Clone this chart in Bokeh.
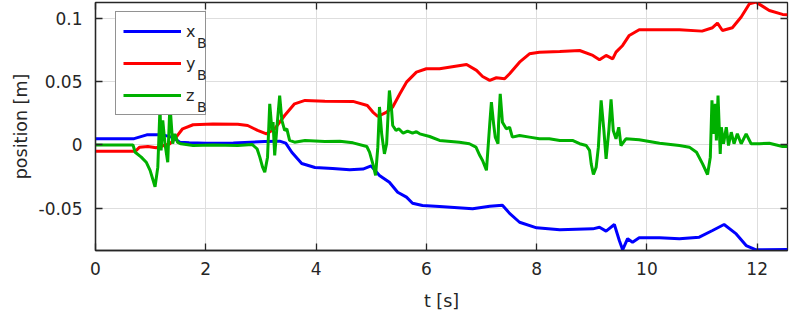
from bokeh.plotting import figure
from bokeh.models import (Range1d, FixedTicker, LinearAxis, Legend, LegendItem,
                          CustomLabelingPolicy)
from bokeh.embed import file_html
from bokeh.resources import INLINE

# ---------------- data ----------------
t_x = [0, 0.7, 0.93, 1.22, 1.4, 1.53, 1.7, 2.0, 2.5, 3.07,
       3.34, 3.45, 3.56, 3.74, 3.98, 4.3, 4.61, 4.85, 5.0, 5.15,
       5.33, 5.48, 5.64, 5.75, 5.93, 6.24, 6.84, 7.15, 7.38, 7.51,
       7.69, 8.0, 8.42, 9.02, 9.14, 9.26, 9.41, 9.5, 9.56, 9.65,
       9.74, 9.86, 10.23, 10.59, 10.95, 11.19, 11.4, 11.62, 11.8, 11.98,
       12.55]
x_B = [0.005, 0.005, 0.008, 0.008, 0.006, 0.0022, 0.0018, 0.0014, 0.0015, 0.0028,
       0.003, 0.0015, -0.0057, -0.0146, -0.0178, -0.0185, -0.0196, -0.019, -0.0165, -0.024,
       -0.0294, -0.0373, -0.0412, -0.046, -0.0478, -0.0486, -0.0504, -0.0483, -0.0475, -0.054,
       -0.061, -0.0654, -0.067, -0.0662, -0.065, -0.068, -0.0628, -0.0754, -0.0828, -0.074,
       -0.0768, -0.0733, -0.0733, -0.074, -0.0728, -0.0675, -0.0628, -0.0702, -0.0794, -0.0828,
       -0.0826]

t_y = [0, 0.72, 0.8, 0.95, 1.1, 1.35, 1.46, 1.58, 1.77, 2.13,
       2.58, 2.76, 2.94, 3.1, 3.25, 3.43, 3.61, 3.8, 4.16, 4.67,
       4.93, 5.03, 5.12, 5.28, 5.39, 5.52, 5.64, 5.82, 6.0, 6.24,
       6.73, 6.91, 7.02, 7.15, 7.27, 7.42, 7.51, 7.69, 7.87, 8.05,
       8.42, 8.78, 9.02, 9.14, 9.26, 9.38, 9.44, 9.56, 9.68, 9.86,
       10.59, 11.0, 11.19, 11.28, 11.37, 11.55, 11.71, 11.86, 11.98, 12.22,
       12.46, 12.55]
y_B = [-0.005, -0.005, -0.0017, -0.0012, -0.0022, 0.001, 0.006, 0.0128, 0.016, 0.0165,
       0.0164, 0.0154, 0.0115, 0.0088, 0.0128, 0.0233, 0.0325, 0.0352, 0.0346, 0.0344,
       0.0312, 0.026, 0.0225, 0.026, 0.03, 0.0404, 0.0496, 0.0575, 0.0602, 0.0602,
       0.0636, 0.0589, 0.0541, 0.051, 0.0531, 0.0523, 0.0562, 0.0654, 0.072, 0.0733,
       0.0738, 0.0746, 0.0707, 0.0673, 0.0707, 0.068, 0.0733, 0.0786, 0.0865, 0.091,
       0.091, 0.0899, 0.0926, 0.0962, 0.0904, 0.0926, 0.101, 0.1115, 0.1128, 0.1062,
       0.1031, 0.1028]

t_z = [0, 0.68, 0.72, 0.83, 0.92, 0.99, 1.08, 1.13, 1.17, 1.19,
       1.22, 1.26, 1.31, 1.35, 1.4, 1.44, 1.49, 1.55, 1.77, 2.13,
       2.58, 2.84, 2.93, 2.98, 3.03, 3.07, 3.12, 3.16, 3.2, 3.22,
       3.25, 3.29, 3.34, 3.38, 3.43, 3.47, 3.52, 3.61, 3.8, 4.16,
       4.43, 4.67, 4.92, 4.97, 5.03, 5.08, 5.12, 5.15, 5.19, 5.24,
       5.28, 5.31, 5.33, 5.37, 5.39, 5.45, 5.5, 5.58, 5.66, 5.75,
       5.82, 5.88, 6.06, 6.24, 6.6, 6.78, 6.9, 6.97, 7.02, 7.09,
       7.12, 7.15, 7.18, 7.22, 7.25, 7.3, 7.31, 7.34, 7.38, 7.45,
       7.51, 7.56, 7.69, 7.87, 8.05, 8.23, 8.42, 8.65, 8.78, 8.9,
       8.96, 8.99, 9.03, 9.08, 9.12, 9.17, 9.22, 9.26, 9.31, 9.35,
       9.39, 9.44, 9.49, 9.53, 9.62, 9.86, 10.23, 10.59, 10.77, 10.9,
       11.01, 11.1, 11.15, 11.18, 11.21, 11.24, 11.26, 11.29, 11.33, 11.35,
       11.39, 11.44, 11.48, 11.53, 11.58, 11.64, 11.71, 11.8, 11.89, 12.04,
       12.22, 12.46, 12.55]
z_B = [0, 0, -0.0057, -0.0096, -0.0136, -0.02, -0.033, -0.0175, 0.03, -0.0043,
       0.0194, 0.001, -0.0136, 0.032, 0.001, 0.0088, 0.002, 0.001, -0.0004, 0,
       -0.0004, 0.0004, -0.003, -0.0096, -0.0175, -0.0215, -0.0096, 0.0325, 0.0115, 0.018,
       -0.0083, 0.014, 0.039, 0.0194, 0.0115, 0.0128, 0.0036, 0.0022, 0.0036, 0.0028,
       0.003, 0.0017, -0.0012, -0.0057, -0.0149, -0.024, -0.0017, 0.03, 0.0088, -0.007,
       0.001, 0.0273, 0.043, 0.0273, 0.0154, 0.0115, 0.0128, 0.0093, 0.011, 0.0093,
       0.0105, 0.0088, 0.0067, 0.0036, 0.0022, 0.001, -0.0017, -0.0083, -0.0122, -0.02,
       -0.0017, 0.0167, 0.0338, 0.0167, 0.0062, 0.001, 0.0167, 0.0404, 0.018, 0.0128,
       0.014, 0.0062, 0.0075, 0.0062, 0.0049, 0.005, 0.0036, 0.0036, 0.001, -0.0004,
       -0.0043, -0.0149, -0.0233, -0.0175, -0.0017, 0.0352, 0.0115, -0.0109, 0.0115, 0.036,
       0.0115, 0.0049, 0.014, -0.0004, 0.0049, 0.0041, 0.0014, -0.0004, -0.0017, -0.0057,
       -0.0149, -0.0233, -0.0096, 0.0352, 0.0088, 0.0325, 0.0036, 0.039, -0.007, 0.014,
       0.001, 0.014, -0.0004, 0.0101, 0.001, 0.0088, 0.001, 0.0088, 0.001, 0.001,
       0.0014, -0.0012, -0.0012]

x_ticks = [0, 2, 4, 6, 8, 10, 12]
y_ticks = [-0.05, 0, 0.05, 0.1]
y_tick_labels = ["-0.05", "0", "0.05", "0.1"]
series_names = ["x", "y", "z"]
subscript = "B"

# ---------------- styling ----------------
FONT = "DejaVu Sans"
AX = "#262626"
COLORS = ["#0000ff", "#ff0000", "#00b000"]

p = figure(width=789, height=315, output_backend="svg", toolbar_location=None,
           x_range=Range1d(0, 12.55), y_range=Range1d(-0.0833, 0.1125),
           min_border_left=95, min_border_right=2, min_border_top=2,
           min_border_bottom=65)
p.background_fill_color = "white"
p.border_fill_color = "white"
p.outline_line_color = AX
p.outline_line_width = 1.3

r1 = p.line(t_x, x_B, line_color=COLORS[0], line_width=3)
r2 = p.line(t_y, y_B, line_color=COLORS[1], line_width=3)
r3 = p.line(t_z, z_B, line_color=COLORS[2], line_width=3)

p.xaxis.ticker = FixedTicker(ticks=x_ticks)
p.yaxis.ticker = FixedTicker(ticks=y_ticks)
p.yaxis.major_label_overrides = {v: s for v, s in zip(y_ticks, y_tick_labels)}

for ax in [p.xaxis[0], p.yaxis[0]]:
    ax.major_tick_in = 7
    ax.major_tick_out = 0
    ax.minor_tick_line_color = None
    ax.axis_line_color = AX
    ax.axis_line_width = 1.3
    ax.major_tick_line_color = AX
    ax.major_tick_line_width = 1.3
    ax.major_label_text_font = FONT
    ax.major_label_text_font_size = "17px"
    ax.major_label_text_color = AX
    ax.axis_label_text_font = FONT
    ax.axis_label_text_font_size = "17.5px"
    ax.axis_label_text_font_style = "normal"
    ax.axis_label_text_color = AX

p.xaxis.axis_label = "t [s]"
p.yaxis.axis_label = "position [m]"
p.xaxis.major_label_standoff = 11
p.yaxis.major_label_standoff = 13
p.xaxis.axis_label_standoff = 13
p.yaxis.axis_label_standoff = 5

# box ticks on top / right (no labels there)
hide_all = CustomLabelingPolicy(code="for (const i of indices) { indices.unset(i) }\nreturn indices")
top = LinearAxis(ticker=FixedTicker(ticks=x_ticks))
right = LinearAxis(ticker=FixedTicker(ticks=y_ticks))
for ax in (top, right):
    ax.major_tick_in = 7
    ax.major_tick_out = 0
    ax.minor_tick_line_color = None
    ax.axis_line_color = None
    ax.major_tick_line_color = AX
    ax.major_tick_line_width = 1.3
    ax.major_label_text_font_size = "0px"
    ax.major_label_standoff = 0
    ax.major_label_policy = hide_all
p.add_layout(top, "above")
p.add_layout(right, "right")

p.grid.grid_line_color = "#dedede"
p.grid.grid_line_width = 1
p.xgrid.ticker = FixedTicker(ticks=x_ticks)
p.ygrid.ticker = FixedTicker(ticks=y_ticks)

# main legend (x / y / z)
legend = Legend(items=[LegendItem(label=n, renderers=[r]) for n, r in zip(series_names, [r1, r2, r3])],
                location=(20, 135))
legend.margin = 0
legend.padding = 7
legend.spacing = 8
legend.glyph_width = 58
legend.glyph_height = 24
legend.label_height = 24
legend.label_width = 12
legend.label_standoff = 5
legend.label_text_font = FONT
legend.label_text_font_size = "16px"
legend.label_text_color = AX
legend.border_line_color = AX
legend.border_line_width = 1.3
legend.background_fill_color = "white"
legend.background_fill_alpha = 1
p.add_layout(legend)

# subscript "B" layer: a transparent legend overlaid, shifted down a little
blank = p.line(x=[], y=[], line_alpha=0)
sub_legend = Legend(items=[LegendItem(label=subscript, renderers=[blank]) for _ in series_names],
                    location=(20, 130.6))
sub_legend.margin = 0
sub_legend.padding = 7
sub_legend.spacing = 8
sub_legend.glyph_width = 77
sub_legend.glyph_height = 24
sub_legend.label_height = 24
sub_legend.label_width = 9
sub_legend.label_standoff = 5
sub_legend.label_text_font = FONT
sub_legend.label_text_font_size = "14px"
sub_legend.label_text_color = AX
sub_legend.border_line_color = None
sub_legend.background_fill_alpha = 0
p.add_layout(sub_legend)

open("out.html", "w").write(file_html(p, INLINE))
